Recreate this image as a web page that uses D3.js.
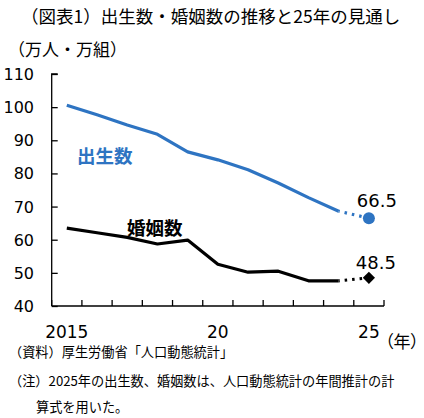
<!DOCTYPE html>
<html>
<head>
<meta charset="utf-8">
<script src="https://cdn.jsdelivr.net/npm/d3@7"></script>
<style>
  html, body { margin: 0; padding: 0; background: #fff; }
  #chart { width: 424px; height: 418px; }
  .jp { font-family: "Noto Sans CJK JP", "Noto Sans", sans-serif; }
  .num { font-family: "DejaVu Sans", Verdana, sans-serif; }
  .palt { font-feature-settings: "palt"; }
</style>
</head>
<body>
<div id="chart"></div>
<script>
"use strict";

const years = [2015, 2016, 2017, 2018, 2019, 2020, 2021, 2022, 2023, 2024, 2025];
const births = [100.6, 97.7, 94.6, 91.8, 86.5, 84.1, 81.1, 77.1, 72.7, 68.6, 66.5];
const marriages = [63.5, 62.1, 60.7, 58.7, 59.9, 52.6, 50.2, 50.5, 47.6, 47.6, 48.5];
const yTicks = [40, 50, 60, 70, 80, 90, 100, 110];
const xLabels = { 2015: "2015", 2020: "20", 2025: "25" };

const BLUE = "#2e74c2";

function draw() {
  const w = 424, h = 418;
  const svg = d3.select("#chart").append("svg")
    .attr("width", w)
    .attr("height", h);

  const left = 51.7, right = 384, top = 74, bottom = 306;

  const x = d3.scaleBand().domain(years).range([left, right]);
  const y = d3.scaleLinear().domain([40, 110]).range([bottom, top]);
  const cx = (d) => x(d) + x.bandwidth() / 2;

  // title & unit
  svg.append("text").attr("class", "jp")
    .attr("x", 21).attr("y", 23)
    .attr("font-size", 17.5)
    .text("（図表1）出生数・婚姻数の推移と25年の見通し");
  svg.append("text").attr("class", "jp")
    .attr("x", 8).attr("y", 56)
    .attr("font-size", 17)
    .text("（万人・万組）");

  // y axis, ticks pointing inward
  const yAxis = svg.append("g")
    .attr("transform", `translate(${left},0)`)
    .call(d3.axisRight(y).tickValues(yTicks).tickSize(6).tickFormat(""));
  yAxis.select(".domain").attr("d", `M6,${top}H0V${bottom}`);
  yAxis.selectAll("line, path").attr("stroke", "#000").attr("stroke-width", 1.3);

  svg.append("g").selectAll("text")
    .data(yTicks)
    .enter()
    .append("text")
    .attr("class", "num")
    .attr("x", 34)
    .attr("y", (d) => y(d) + 6)
    .attr("text-anchor", "end")
    .attr("font-size", 16)
    .text((d) => d);

  // x axis, ticks at band edges pointing up
  const edges = years.map((d) => x(d)).concat([right]);
  const xAxis = svg.append("g");
  xAxis.append("line")
    .attr("x1", left).attr("x2", right)
    .attr("y1", bottom).attr("y2", bottom)
    .attr("stroke", "#000").attr("stroke-width", 1.3);
  xAxis.selectAll(".tick")
    .data(edges)
    .enter()
    .append("line")
    .attr("x1", (d) => d).attr("x2", (d) => d)
    .attr("y1", bottom).attr("y2", bottom - 6)
    .attr("stroke", "#000").attr("stroke-width", 1.3);

  svg.append("g").selectAll("text")
    .data(years.filter((d) => xLabels[d]))
    .enter()
    .append("text")
    .attr("class", "num")
    .attr("x", cx)
    .attr("y", 338)
    .attr("text-anchor", "middle")
    .attr("font-size", 17)
    .text((d) => xLabels[d]);

  svg.append("text").attr("class", "jp palt")
    .attr("x", 385).attr("y", 348)
    .attr("font-size", 17)
    .text("（年）");

  // series lines: solid up to 2024, dotted to 2025
  const line = d3.line().x((d) => cx(d[0])).y((d) => y(d[1]));
  const series = [
    { values: births, color: BLUE },
    { values: marriages, color: "#000" },
  ];
  series.forEach((s) => {
    const pts = years.map((yr, i) => [yr, s.values[i]]);
    const n = pts.length;
    svg.append("path")
      .attr("d", line(pts.slice(0, n - 1)))
      .attr("fill", "none")
      .attr("stroke", s.color)
      .attr("stroke-width", 3.2)
      .attr("stroke-linejoin", "round");
    svg.append("path")
      .attr("d", line(pts.slice(n - 2)))
      .attr("fill", "none")
      .attr("stroke", s.color)
      .attr("stroke-width", 3.2)
      .attr("stroke-dasharray", "2.5,5")
      .attr("stroke-dashoffset", -6);
  });

  const last = years.length - 1;
  svg.append("circle")
    .attr("cx", cx(years[last]))
    .attr("cy", y(births[last]))
    .attr("r", 6)
    .attr("fill", BLUE);
  svg.append("path")
    .attr("d", d3.symbol(d3.symbolDiamond2, 95)())
    .attr("transform", `translate(${cx(years[last])},${y(marriages[last])})`)
    .attr("fill", "#000");

  // value labels
  svg.append("text").attr("class", "num")
    .attr("x", cx(years[last]) + 8).attr("y", y(births[last]) - 11)
    .attr("text-anchor", "middle")
    .attr("font-size", 18)
    .text(births[last].toFixed(1));
  svg.append("text").attr("class", "num")
    .attr("x", cx(years[last]) + 7).attr("y", y(marriages[last]) - 9)
    .attr("text-anchor", "middle")
    .attr("font-size", 18)
    .text(marriages[last].toFixed(1));

  // series names
  svg.append("text").attr("class", "jp")
    .attr("x", 77).attr("y", 163)
    .attr("font-size", 18.5)
    .attr("font-weight", "bold")
    .attr("fill", BLUE)
    .text("出生数");
  svg.append("text").attr("class", "jp")
    .attr("x", 127).attr("y", 235)
    .attr("font-size", 18.5)
    .attr("font-weight", "bold")
    .text("婚姻数");

  // notes
  const notes = [
    [9, 357, "（資料）厚生労働省「人口動態統計」"],
    [9, 386, "（注）2025年の出生数、婚姻数は、人口動態統計の年間推計の計"],
    [36, 412, "算式を用いた。"],
  ];
  svg.append("g").selectAll("text")
    .data(notes)
    .enter()
    .append("text")
    .attr("class", "jp")
    .attr("x", (d) => d[0])
    .attr("y", (d) => d[1])
    .attr("font-size", 13.2)
    .text((d) => d[2]);
}

draw();
</script>
</body>
</html>
